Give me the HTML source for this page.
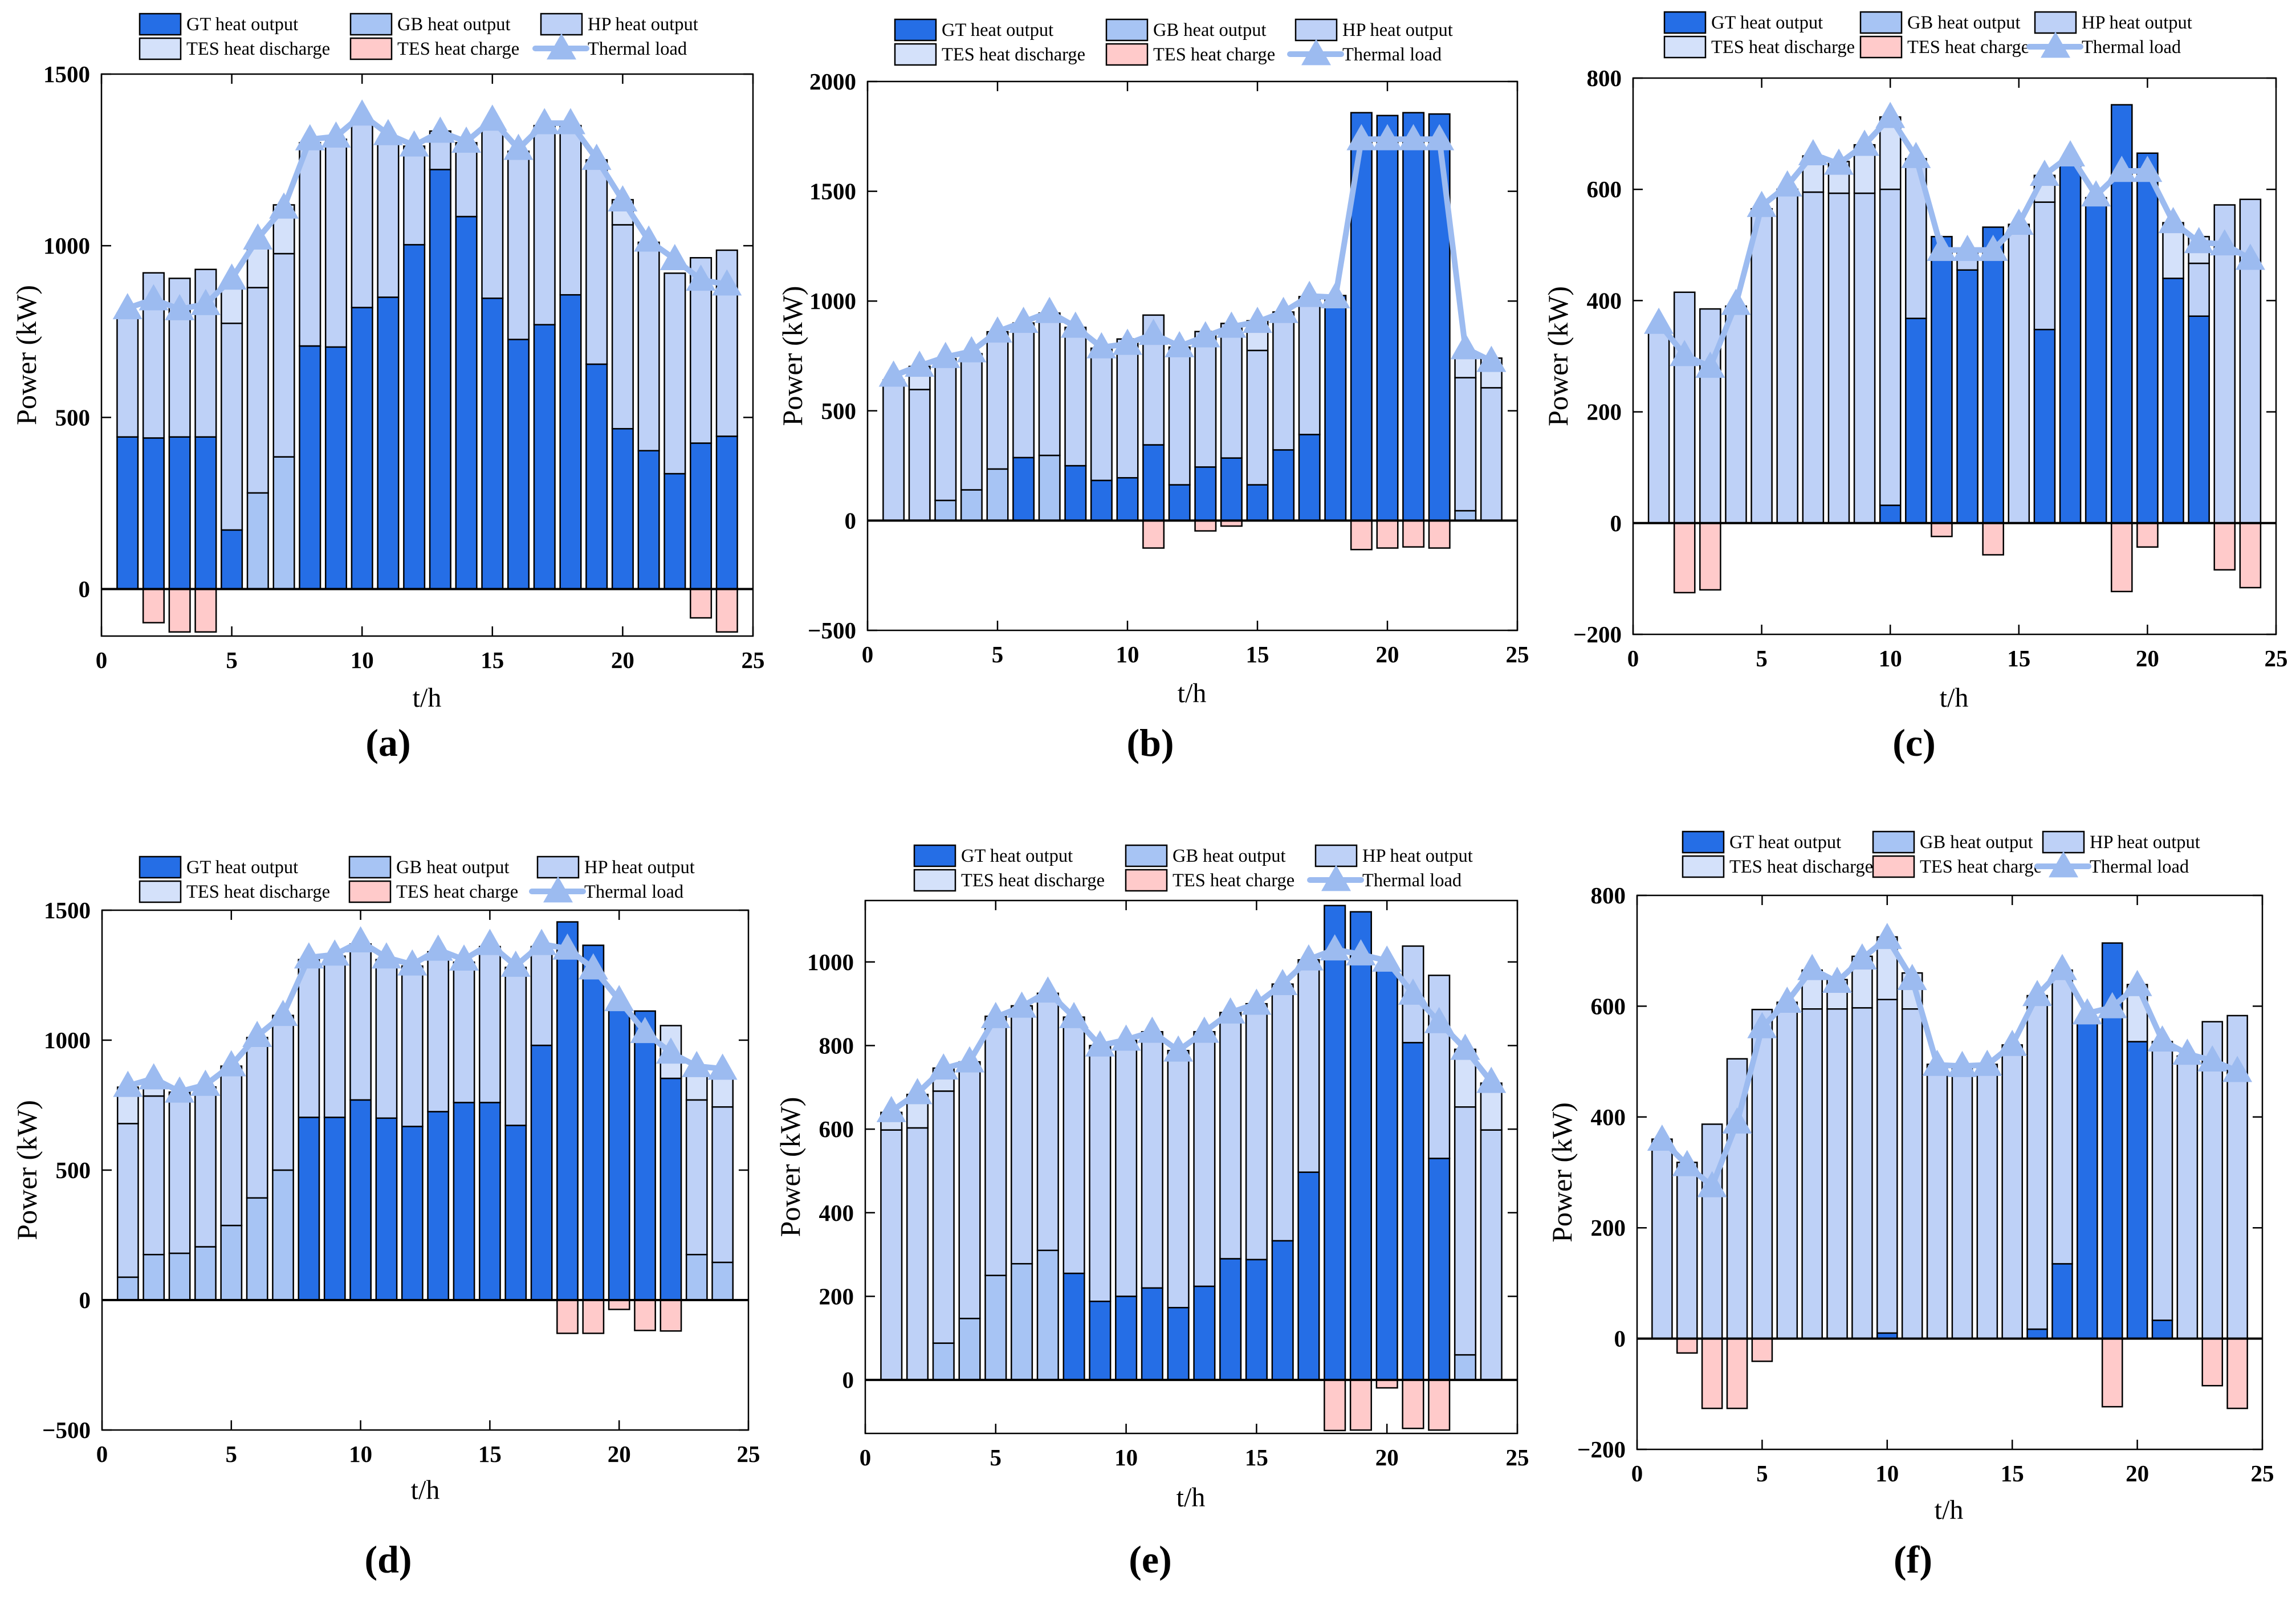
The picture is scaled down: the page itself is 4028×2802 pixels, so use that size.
<!DOCTYPE html>
<html><head><meta charset="utf-8"><title>Heat balance charts</title>
<style>
html,body{margin:0;padding:0;background:#fff;}
svg{display:block;font-family:"Liberation Serif",serif;}
</style></head>
<body>
<svg id="fig" width="4028" height="2802" viewBox="0 0 4028 2802" xmlns="http://www.w3.org/2000/svg"></svg>
<script>
// ---- data (hours 1..24) ----
const hours = [1,2,3,4,5,6,7,8,9,10,11,12,13,14,15,16,17,18,19,20,21,22,23,24];
const seriesNames = ['GT heat output','GB heat output','HP heat output','TES heat discharge','TES heat charge','Thermal load'];
// panel a
const gtA = [443,440,443,443,172,0,0,708,705,820,850,1003,1222,1085,847,727,770,857,655,467,403,336,425,445];
const gbA = [0,0,0,0,0,280,385,0,0,0,0,0,0,0,0,0,0,0,0,0,0,0,0,0];
const hpA = [360,481,462,488,602,598,592,592,605,540,460,287,112,215,498,548,580,493,595,594,607,584,540,542];
const tesA = [0,0,0,0,101,117,142,0,0,0,0,0,0,0,0,0,0,0,0,73,0,0,0,0];
const chgA = [0,-98,-125,-125,0,0,0,0,0,0,0,0,0,0,0,0,0,0,0,0,0,0,-84,-125];
const loadA = [818,844,815,830,904,1021,1111,1310,1318,1382,1325,1292,1332,1303,1367,1282,1357,1357,1253,1132,1015,961,901,887];
// panel b
const gtB = [0,0,0,0,0,287,0,250,183,195,345,163,244,285,163,322,392,1025,1858,1845,1858,1852,0,0];
const gbB = [0,0,92,140,235,0,297,0,0,0,0,0,0,0,0,0,0,0,0,0,0,0,45,0];
const hpB = [640,597,645,620,625,613,648,630,602,632,591,627,617,613,612,628,628,0,0,0,0,0,606,605];
const tesB = [0,105,0,0,0,0,0,0,0,0,0,0,0,0,135,0,0,0,0,0,0,0,88,135];
const chgB = [0,0,0,0,0,0,0,0,0,0,-125,0,-47,-25,0,0,0,0,-132,-125,-120,-125,0,0];
const loadB = [660,705,745,771,861,905,950,883,789,805,850,794,839,883,905,950,1023,1017,1737,1737,1737,1737,785,727];
// panel c
const gtC = [0,0,0,0,0,0,0,0,0,32,368,515,455,532,0,348,650,585,752,665,440,372,0,0];
const gbC = [0,0,0,0,0,0,0,0,0,0,0,0,0,0,0,0,0,0,0,0,0,0,0,0];
const hpC = [345,415,385,390,565,600,595,593,593,568,287,0,35,0,537,229,0,0,0,0,0,95,572,582];
const tesC = [0,0,0,0,0,0,65,57,87,130,0,0,0,0,0,48,0,0,0,0,100,48,0,0];
const chgC = [0,-125,-120,0,0,0,0,0,0,0,0,-24,0,-57,0,0,0,0,-123,-43,0,0,-84,-116];
const loadC = [360,302,281,394,570,607,663,646,680,730,658,491,491,491,538,626,661,589,633,633,541,505,501,475];
// panel d
const gtD = [0,0,0,0,0,0,0,703,703,770,700,668,725,760,760,672,980,1455,1365,1125,1112,853,0,0];
const gbD = [88,175,180,205,287,393,500,0,0,0,0,0,0,0,0,0,0,0,0,0,0,0,175,145];
const hpD = [591,610,620,615,613,617,595,607,620,600,610,617,615,540,600,608,380,0,0,0,0,0,595,598];
const tesD = [140,50,0,0,0,0,0,0,0,0,0,0,0,0,0,0,0,0,0,0,0,203,110,125];
const chgD = [0,0,0,0,0,0,0,0,0,0,0,0,0,0,0,0,0,-128,-128,-36,-117,-119,0,0];
const loadD = [824,853,802,828,903,1016,1097,1318,1329,1380,1318,1291,1348,1310,1370,1286,1370,1352,1276,1154,1031,952,900,890];
// panel e
const gtE = [0,0,0,0,0,0,0,255,188,200,220,173,224,290,288,333,497,1135,1120,990,807,530,0,0];
const gbE = [0,0,88,147,250,278,310,0,0,0,0,0,0,0,0,0,0,0,0,0,0,0,60,0];
const hpE = [598,603,603,614,620,617,615,613,612,612,613,615,609,589,612,614,508,0,0,0,231,438,593,598];
const tesE = [42,80,55,0,0,0,0,0,0,0,0,0,0,0,0,0,0,0,0,0,0,0,138,112];
const chgE = [0,0,0,0,0,0,0,0,0,0,0,0,0,0,0,0,0,-121,-120,-19,-116,-120,0,0];
const loadE = [643,686,745,762,868,893,929,868,800,814,833,788,833,879,900,947,1006,1030,1018,1003,924,856,792,713];
// panel f
const gtF = [0,0,0,0,0,0,0,0,0,10,0,0,0,0,0,17,135,573,714,536,33,0,0,0];
const gbF = [0,0,0,0,0,0,0,0,0,0,0,0,0,0,0,0,0,0,0,0,0,0,0,0];
const hpF = [360,318,387,505,594,607,595,595,597,602,595,495,490,495,530,602,530,0,0,0,503,510,572,583];
const tesF = [0,0,0,0,0,0,70,53,93,113,65,0,0,0,0,0,0,0,0,103,0,0,0,0];
const chgF = [0,-26,-126,-126,-41,0,0,0,0,0,0,0,0,0,0,0,0,0,-123,0,0,0,-85,-126];
const loadF = [359,313,275,390,562,608,667,644,686,723,649,494,492,494,530,620,667,587,598,638,538,514,502,483];
// y-axis tick values per panel
const yTicksA = [0,500,1000,1500];
const yTicksB = [-500,0,500,1000,1500,2000];
const yTicksC = [-200,0,200,400,600,800];
const yTicksD = [-500,0,500,1000,1500];
const yTicksE = [0,200,400,600,800,1000];
const yTicksF = [-200,0,200,400,600,800];
const xTicks = [0,5,10,15,20,25];

// ---- layout (positions, not data) ----
const layout = [
 {id:'a',L:178,R:1321,T:130,B:1116,ymin:-137,ymax:1500,lx:245,c2:615,c3:949,ly:24,xlx:749,xly:1240,lbx:681,lby:1326},
 {id:'b',L:1522,R:2662,T:143,B:1106,ymin:-500,ymax:2000,lx:1570,c2:1941,c3:2273,ly:34,xlx:2091,xly:1232,lbx:2018,lby:1326},
 {id:'c',L:2865,R:3993,T:137,B:1113,ymin:-200,ymax:800,lx:2920,c2:3264,c3:3570,ly:21,xlx:3428,xly:1240,lbx:3358,lby:1326},
 {id:'d',L:179,R:1313,T:1597,B:2509,ymin:-500,ymax:1500,lx:245,c2:613,c3:943,ly:1503,xlx:746,xly:2630,lbx:681,lby:2759},
 {id:'e',L:1518,R:2662,T:1580,B:2515,ymin:-128,ymax:1147,lx:1604,c2:1975,c3:2308,ly:1483,xlx:2089,xly:2643,lbx:2018,lby:2759},
 {id:'f',L:2872,R:3969,T:1571,B:2543,ymin:-200,ymax:800,lx:2952,c2:3286,c3:3584,ly:1459,xlx:3419,xly:2665,lbx:3356,lby:2759}
];
const panelData = [
 [gtA,gbA,hpA,tesA,chgA,loadA,yTicksA],
 [gtB,gbB,hpB,tesB,chgB,loadB,yTicksB],
 [gtC,gbC,hpC,tesC,chgC,loadC,yTicksC],
 [gtD,gbD,hpD,tesD,chgD,loadD,yTicksD],
 [gtE,gbE,hpE,tesE,chgE,loadE,yTicksE],
 [gtF,gbF,hpF,tesF,chgF,loadF,yTicksF]
];
const COL = {gt:'#256ee6', gb:'#a7c4f4', hp:'#bed1f7', tes:'#d4e1fa', chg:'#ffcaca', load:'#9cbbf0'};
const NS = 'http://www.w3.org/2000/svg';
const svg = document.getElementById('fig');
function mk(tag, attrs, parent){
  const e = document.createElementNS(NS, tag);
  for (const k in attrs) e.setAttribute(k, attrs[k]);
  (parent||svg).appendChild(e);
  return e;
}
function fmt(v){ return v<0 ? '\u2212'+(-v) : String(v); }
function tri(cx, cy, w, h){
  return (cx-w/2)+','+(cy+h*0.42)+' '+(cx+w/2)+','+(cy+h*0.42)+' '+cx+','+(cy-h*0.58);
}

layout.forEach((P, pi) => {
  const [gt,gb,hp,tes,chg,load,yt] = panelData[pi];
  const g = mk('g', {});
  
  
  const sx = v => P.L + (v/25)*(P.R-P.L);
  const sy = v => P.B - (v-P.ymin)/(P.ymax-P.ymin)*(P.B-P.T);
  const bw = 0.8*(P.R-P.L)/25;

  // bars
  const stacks = [['gt',gt],['gb',gb],['hp',hp],['tes',tes]];
  hours.forEach((h, i) => {
    let base = 0;
    stacks.forEach(([key, arr]) => {
      const v = arr[i];
      if (v > 0) {
        const r = mk('rect', {x:sx(h)-bw/2, y:sy(base+v), width:bw, height:sy(base)-sy(base+v), fill:COL[key], stroke:'#000', 'stroke-width':2.5}, g);
        
        
        base += v;
      }
    });
    if (chg[i] < 0) {
      const r = mk('rect', {x:sx(h)-bw/2, y:sy(0), width:bw, height:sy(chg[i])-sy(0), fill:COL.chg, stroke:'#000', 'stroke-width':2.5}, g);
      
      
    }
  });
  // zero line
  const z = mk('line', {x1:P.L, x2:P.R, y1:sy(0), y2:sy(0), stroke:'#000', 'stroke-width':4}, g);
  
  

  // frame
  const fr = mk('rect', {x:P.L, y:P.T, width:P.R-P.L, height:P.B-P.T, fill:'none', stroke:'#000', 'stroke-width':2.5}, g);
  
  

  // x ticks
  xTicks.forEach(t => {
    const x = sx(t);
    mk('line', {x1:x, x2:x, y1:P.B, y2:P.B-17, stroke:'#000', 'stroke-width':2.5}, g);
    mk('line', {x1:x, x2:x, y1:P.T, y2:P.T+17, stroke:'#000', 'stroke-width':2.5}, g);
    const tx = mk('text', {x:x, y:P.B+56, 'font-size':41, 'font-weight':'bold', 'text-anchor':'middle'}, g);
    
    
    tx.textContent = t;
  });
  // y ticks
  yt.forEach(t => {
    const y = sy(t);
    mk('line', {x1:P.L, x2:P.L+17, y1:y, y2:y, stroke:'#000', 'stroke-width':2.5}, g);
    mk('line', {x1:P.R, x2:P.R-17, y1:y, y2:y, stroke:'#000', 'stroke-width':2.5}, g);
    const ty = mk('text', {x:P.L-20, y:y+14, 'font-size':41, 'font-weight':'bold', 'text-anchor':'end'}, g);
    
    
    ty.textContent = fmt(t);
  });

  // thermal load line
  const pts = hours.map((h,i) => sx(h)+','+sy(load[i])).join(' ');
  const pl = mk('polyline', {points:pts, fill:'none', stroke:COL.load, 'stroke-width':10, 'stroke-linejoin':'round'}, g);
  
  
  hours.forEach((h,i) => {
    const m = mk('polygon', {points:tri(sx(h), sy(load[i]), 52, 46), fill:COL.load}, g);
    
    
  });

  // axis titles
  const yTitle = mk('text', {x:0, y:0, 'font-size':50, 'text-anchor':'middle', transform:'translate('+(P.L-115)+','+((P.T+P.B)/2)+') rotate(-90)'}, g);
  
  
  yTitle.textContent = 'Power (kW)';
  const xTitle = mk('text', {x:P.xlx, y:P.xly, 'font-size':48, 'text-anchor':'middle'}, g);
  
  
  xTitle.textContent = 't/h';
  const lab = mk('text', {x:P.lbx, y:P.lby, 'font-size':68, 'font-weight':'bold', 'text-anchor':'middle'}, g);
  
  
  lab.textContent = '('+P.id+')';

  // legend
  const lg = mk('g', {}, g);
  
  
  const entries = [
    [P.lx, 0, COL.gt, seriesNames[0]],
    [P.c2, 0, COL.gb, seriesNames[1]],
    [P.c3, 0, COL.hp, seriesNames[2]],
    [P.lx, 1, COL.tes, seriesNames[3]],
    [P.c2, 1, COL.chg, seriesNames[4]]
  ];
  entries.forEach(([x,row,c,name]) => {
    const y = P.ly + row*43;
    const sw = mk('rect', {x:x, y:y, width:72, height:37, fill:c, stroke:'#000', 'stroke-width':2.5}, lg);
    
    
    const t = mk('text', {x:x+82, y:y+29, 'font-size':32.5}, lg);
    
    
    t.textContent = name;
  });
  const ly2 = P.ly + 43 + 18;
  const ll = mk('line', {x1:P.c3-10, x2:P.c3+80, y1:ly2, y2:ly2, stroke:COL.load, 'stroke-width':10, 'stroke-linecap':'round'}, lg);
  
  
  const lm = mk('polygon', {points:tri(P.c3+36, ly2, 52, 46), fill:COL.load}, lg);
  
  
  const lt = mk('text', {x:P.c3+82, y:P.ly+43+29, 'font-size':32.5}, lg);
  
  
  lt.textContent = seriesNames[5];
});
</script>
</body></html>
